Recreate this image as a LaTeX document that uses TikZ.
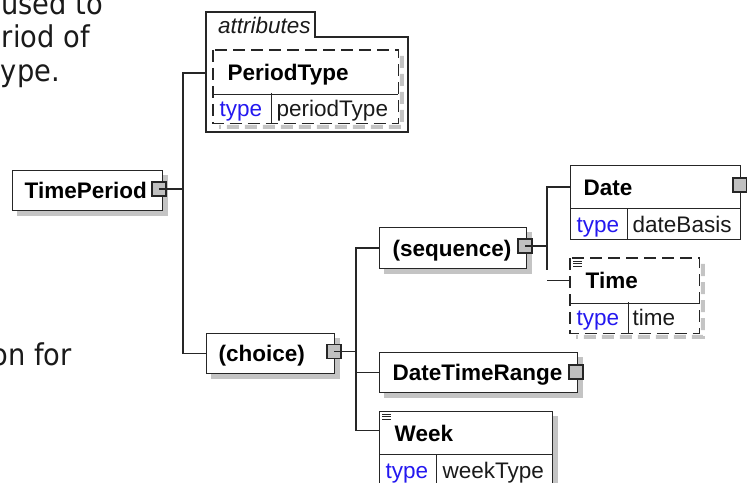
\documentclass[tikz,border=0pt]{standalone}
\usepackage{fontspec}
\setmainfont{Liberation Sans}
\newfontfamily\leftfont[FakeStretch=0.91]{DejaVu Sans}
\definecolor{linec}{HTML}{262626}
\definecolor{shadowc}{HTML}{C4C4C4}
\definecolor{portc}{HTML}{C0C0C0}
\definecolor{typec}{HTML}{2418F0}
\definecolor{textc}{HTML}{1A1A1A}
\pgfdeclarelayer{bg}
\pgfsetlayers{bg,main}
\newcommand\shadowof[2]{\fill[shadowc] ([shift={(5bp,-5bp)}]#1.north west) rectangle ([shift={(5bp,-5bp)}]#2.south east);}
\begin{document}
\begin{tikzpicture}[x=1bp,y=-1bp,
  lw/.style={line width=1.4bp},
  conn/.style={draw=linec, lw},
  box/.style={draw=linec, lw, fill=white, anchor=north west, inner ysep=0pt, align=left,
              text height=16bp, text depth=0bp, text=textc, font=\fontsize{22.5bp}{27bp}\selectfont},
  head/.style={box, font=\fontsize{22.5bp}{27bp}\selectfont\bfseries, text=black},
  cell/.style={box},
  port/.style={draw=linec, lw, fill=portc, minimum size=14bp, inner sep=0pt},
  lefttext/.style={font=\leftfont\fontsize{30bp}{36bp}\selectfont, inner sep=0pt, text=textc},
  dashbox/.style={draw=linec, lw, dash pattern=on 12bp off 6bp},
  dashshadow/.style={draw=shadowc, line width=4bp, dash pattern=on 12bp off 6bp}
]
\useasboundingbox (0,0) rectangle (747,483);

% left description text (cut off)
\node[lefttext, anchor=base east] (t1) at (103,15) {used to};
\node[lefttext, anchor=base east] (t2) at (90,48) {riod of};
\node[lefttext, anchor=base east] (t3) at (60,82) {ype.};
\node[lefttext, anchor=base east] (t4) at (72,365) {on for};

% attributes container
\draw[linec, lw] (206,37) -- (206,12) -- (315,12) -- (315,37) -- (408,37) -- (408,132) -- (206,132) -- cycle;
\node[anchor=base west, inner sep=0pt, font=\fontsize{22.5bp}{27bp}\selectfont\itshape, text=textc] (attrlbl) at (218,34) {attributes};

% PeriodType (dashed, optional attribute)
\node[head, draw=none, minimum width=184bp, minimum height=43bp, text width=156bp, inner xsep=14bp] (pt) at (213,50) {PeriodType};
\node[cell, draw=none, minimum width=57bp, minimum height=29bp, text width=45bp, inner xsep=6bp, text=typec] (ptT) at (213,93) {type};
\node[cell, draw=none, minimum width=127bp, minimum height=29bp, text width=115bp, inner xsep=6bp] (ptV) at (270,93) {periodType};
\draw[dashbox] (pt.north west) rectangle (ptV.south east);
\draw[linec, lw] (pt.south west) -- (pt.south east);
\draw[linec, lw] (ptT.north east) -- (ptT.south east);

% TimePeriod
\node[head, minimum width=150bp, minimum height=40bp, text width=126bp, inner xsep=12bp] (tp) at (12,170) {TimePeriod};
\node[port] (tpP) at (159,189) {};

% choice
\node[head, minimum width=128bp, minimum height=40bp, text width=104bp, inner xsep=12bp] (ch) at (206,333) {(choice)};
\node[port] (chP) at (334,351.5) {};

% sequence
\node[head, minimum width=147bp, minimum height=41bp, text width=121bp, inner xsep=13bp] (sq) at (379,227) {(sequence)};
\node[port] (sqP) at (525,246) {};

% DateTimeRange
\node[head, minimum width=198bp, minimum height=40bp, text width=172bp, inner xsep=13bp] (dtr) at (379,352) {DateTimeRange};
\node[port] (dtrP) at (576,372) {};

% Date
\node[head, minimum width=170bp, minimum height=43bp, text width=144bp, inner xsep=13bp] (dt) at (570,165) {Date};
\node[cell, minimum width=57bp, minimum height=31bp, text width=45bp, inner xsep=6bp, text=typec] (dtT) at (570,208) {type};
\node[cell, minimum width=113bp, minimum height=31bp, text width=103bp, inner xsep=5bp] (dtV) at (627,208) {dateBasis};
\node[port] (dtP) at (740,185) {};

% Time (dashed, optional)
\node[head, draw=none, minimum width=128bp, minimum height=44bp, text width=98bp, inner xsep=15bp] (tm) at (570,258) {Time};
\node[cell, draw=none, minimum width=57bp, minimum height=30bp, text width=45bp, inner xsep=6bp, text=typec] (tmT) at (570,302) {type};
\node[cell, draw=none, minimum width=71bp, minimum height=30bp, text width=61bp, inner xsep=5bp] (tmV) at (627,302) {time};
\draw[dashbox] (tm.north west) rectangle (tmV.south east);
\draw[linec, lw] (tm.south west) -- (tm.south east);
\draw[linec, lw] (tmT.north east) -- (tmT.south east);
\foreach \yy/\ll in {261/9,263.5/9,266/9} \draw[linec, line width=0.9bp] (573,\yy) -- ++(\ll,0);

% Week
\node[head, minimum width=173bp, minimum height=43bp, text width=143bp, inner xsep=15bp] (wk) at (379,411) {Week};
\node[cell, minimum width=57bp, minimum height=31bp, text width=45bp, inner xsep=6bp, text=typec] (wkT) at (379,454) {type};
\node[cell, minimum width=116bp, minimum height=31bp, text width=104bp, inner xsep=6bp] (wkV) at (436,454) {weekType};
\foreach \yy/\ll in {414/9,416.5/9,419/9} \draw[linec, line width=0.9bp] (382,\yy) -- ++(\ll,0);

% junctions
\coordinate (j1) at (183,0);
\coordinate (j2) at (356,0);
\coordinate (j3) at (547,0);
\coordinate (attrL) at (206,73);
\coordinate (j3end) at (547,270);
\coordinate (wkC) at ([yshift=3bp]wk.west);

% connectors
\draw[conn] (tpP.center) -- (tpP.center -| j1);
\draw[conn] (attrL) -| (j1 |- ch.west) -- (ch.west);
\draw[conn] (chP.center) -- (chP.center -| j2);
\draw[conn] (sq.west) -| (j2 |- wkC) -- (wkC);
\draw[conn] (dtr.west) -- (dtr.west -| j2);
\draw[conn] (sqP.center) -- (sqP.center -| j3);
\draw[conn] (dt.west) -| (j3end);
\draw[conn] (tm.west) -- (tm.west -| j3);

% shadows
\begin{pgfonlayer}{bg}
\shadowof{tp}{tp}
\shadowof{ch}{ch}
\shadowof{sq}{sq}
\shadowof{dtr}{dtr}
\shadowof{wk}{wkV}
\draw[dashshadow] ([shift={(3.5bp,-6bp)}]pt.north east) -- ([shift={(3.5bp,-3.5bp)}]ptV.south east) -- ([shift={(6bp,-3.5bp)}]ptT.south west);
\draw[dashshadow] ([shift={(3.5bp,-6bp)}]tm.north east) -- ([shift={(3.5bp,-3.5bp)}]tmV.south east) -- ([shift={(6bp,-3.5bp)}]tmT.south west);
\end{pgfonlayer}
\end{tikzpicture}
\end{document}
